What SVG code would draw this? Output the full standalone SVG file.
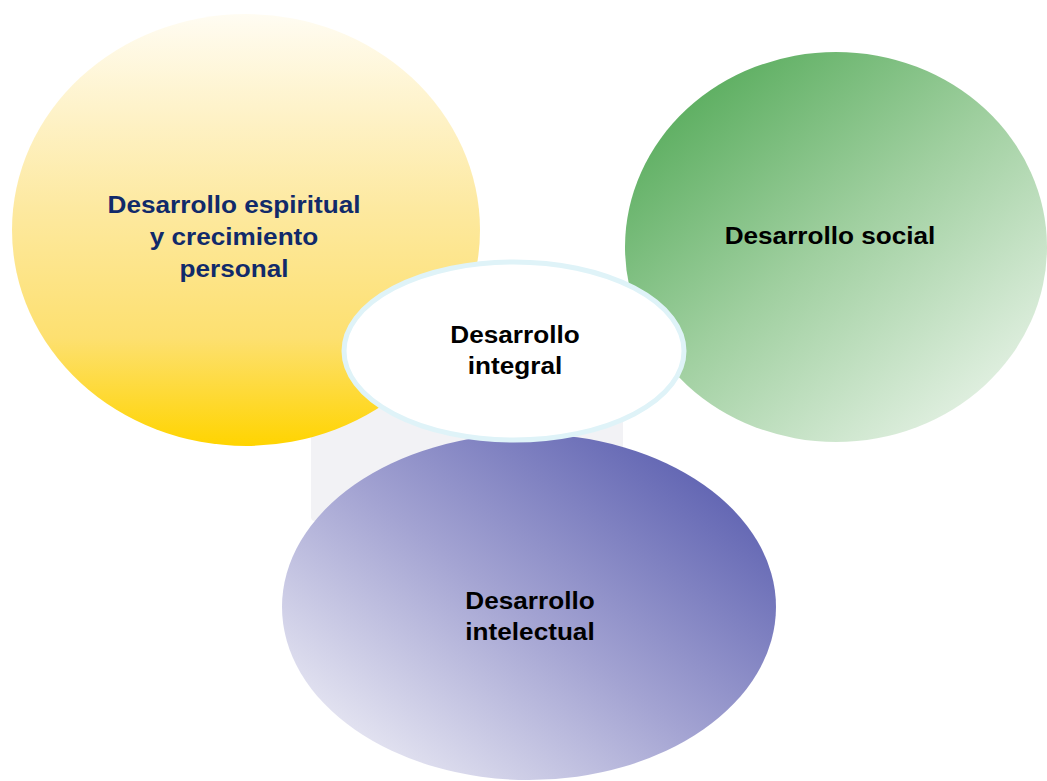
<svg xmlns="http://www.w3.org/2000/svg" width="1047" height="781" viewBox="0 0 1047 781">
  <defs>
    <linearGradient id="gYellow" x1="0" y1="0" x2="0" y2="1">
      <stop offset="0" stop-color="#fffcf2"/>
      <stop offset="0.45" stop-color="#fde9a0"/>
      <stop offset="0.75" stop-color="#fde070"/>
      <stop offset="1" stop-color="#ffd400"/>
    </linearGradient>
    <linearGradient id="gGreen" x1="0.15" y1="0.1" x2="0.9" y2="0.95">
      <stop offset="0" stop-color="#5cae60"/>
      <stop offset="0.45" stop-color="#9fcf9f"/>
      <stop offset="1" stop-color="#eaf4ea"/>
    </linearGradient>
    <linearGradient id="gPurple" x1="0.95" y1="0.15" x2="0.1" y2="0.95">
      <stop offset="0" stop-color="#5c60b0"/>
      <stop offset="0.5" stop-color="#a3a3d2"/>
      <stop offset="1" stop-color="#eeeef6"/>
    </linearGradient>
    <style>
      .lbl { font-family: "Liberation Sans", Arial, sans-serif; font-weight: bold; font-size: 24px; text-anchor: middle; }
      .navy { fill: #112a6a; }
      .blk { fill: #000000; }
    </style>
  </defs>
  <rect width="1047" height="781" fill="#ffffff"/>

  <g id="watermark">
    <rect x="311" y="395" width="312" height="126" rx="4" fill="#f2f2f5"/>
  </g>

  <g id="node-espiritual">
    <ellipse cx="246" cy="230" rx="234" ry="216" fill="url(#gYellow)"/>
    <text class="lbl navy" transform="translate(234,0) scale(1.09,1)"><tspan x="0" y="213">Desarrollo espiritual</tspan><tspan x="0" y="245">y crecimiento</tspan><tspan x="0" y="277">personal</tspan></text>
  </g>

  <g id="node-social">
    <ellipse cx="836" cy="247" rx="211" ry="195" fill="url(#gGreen)"/>
    <text class="lbl blk" transform="translate(830,0) scale(1.09,1)"><tspan x="0" y="244">Desarrollo social</tspan></text>
  </g>

  <g id="node-intelectual">
    <ellipse cx="529" cy="607" rx="247" ry="173" fill="url(#gPurple)"/>
    <text class="lbl blk" transform="translate(530,0) scale(1.09,1)"><tspan x="0" y="609">Desarrollo</tspan><tspan x="0" y="640">intelectual</tspan></text>
  </g>

  <g id="node-integral">
    <ellipse cx="514" cy="351" rx="170" ry="89" fill="#ffffff" stroke="#dff3f8" stroke-width="5"/>
    <text class="lbl blk" transform="translate(515,0) scale(1.09,1)"><tspan x="0" y="343">Desarrollo</tspan><tspan x="0" y="374">integral</tspan></text>
  </g>

  <g id="connectors"/>
</svg>
